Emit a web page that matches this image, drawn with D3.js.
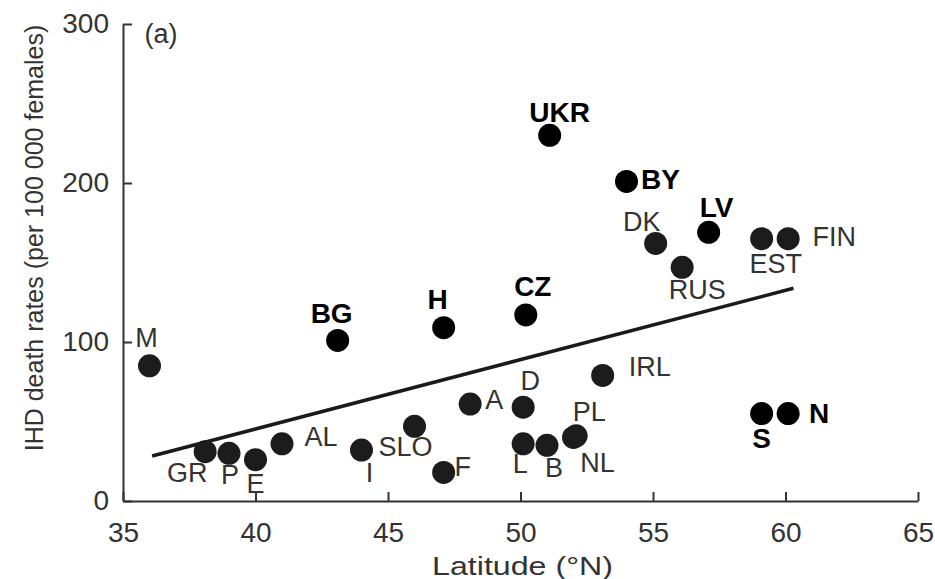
<!DOCTYPE html>
<html>
<head>
<meta charset="utf-8">
<script src="https://cdn.jsdelivr.net/npm/d3@7/dist/d3.min.js"></script>
<style>
  body { margin: 0; background: #fff; }
  svg { font-family: "Liberation Sans", Arial, sans-serif; }
</style>
</head>
<body>
<div id="chart"></div>
<script>
// country codes, latitude (°N), IHD death rate (per 100 000 females)
const countries = ["M", "GR", "P", "E", "AL", "I", "SLO", "F", "A", "D", "L", "B", "PL", "NL", "IRL",
  "BG", "H", "CZ", "UKR", "BY", "DK", "LV", "RUS", "EST", "FIN", "S", "N"]
const latitude = [36.0, 38.1, 39.0, 40.0, 41.0, 44.0, 46.0, 47.1, 48.1, 50.1, 50.1, 51.0, 52.1, 52.0, 53.1,
  43.1, 47.1, 50.2, 51.1, 54.0, 55.1, 57.1, 56.1, 59.1, 60.1, 59.1, 60.1]
const rates = [85, 31, 30, 26, 36, 32, 47, 18, 61, 59, 36, 35, 41, 40, 79,
  101, 109, 117, 230, 201, 162, 169, 147, 165, 165, 55, 55]
// eastern / highlighted countries are drawn bold
const highlighted = ["BG", "H", "CZ", "UKR", "BY", "LV", "S", "N"]

// fitted regression line, two end points [lat, rate]
const fitLine = [[36.1, 28.3], [60.3, 133.8]]

const xTicks = [35, 40, 45, 50, 55, 60, 65]
const yTicks = [0, 100, 200, 300]

// label offsets from dot centre (layout only)
const labelPos = {
  M: [-3, -28], GR: [-18, 21], P: [1, 22], E: [0, 24], AL: [39, -7], I: [8, 23], SLO: [-9, 21],
  F: [19, -5], A: [24, -4], D: [7, -26], L: [-3, 20], B: [7, 23], PL: [13, -24], NL: [24, 26],
  IRL: [47, -8], BG: [-6, -27], H: [-6, -28], CZ: [7, -28], UKR: [10, -23], BY: [34, -2],
  DK: [-14, -21], LV: [8, -25], RUS: [15, 23], EST: [14, 25], FIN: [46, -2], S: [0, 25], N: [31, 0]
}

const svgWidth = 935, svgHeight = 579

const svg = d3.select("#chart").append("svg")
  .attr("width", svgWidth)
  .attr("height", svgHeight)

const x = d3.scaleLinear().domain([35, 65]).range([123, 918])
const y = d3.scaleLinear().domain([0, 300]).range([501, 24])

// axes
const xAxis = svg.append("g")
  .attr("transform", "translate(0," + y(0) + ")")
  .call(d3.axisBottom(x).tickValues(xTicks).tickSize(-9).tickPadding(21).tickSizeOuter(0))
xAxis.selectAll("text").attr("font-size", "28px").attr("fill", "#333")

const yAxis = svg.append("g")
  .attr("transform", "translate(" + x(35) + ",0)")
  .call(d3.axisLeft(y).tickValues(yTicks).tickSize(-9).tickPadding(14).tickSizeOuter(0))
yAxis.selectAll("text").attr("font-size", "28px").attr("fill", "#333")

svg.selectAll(".domain, .tick line").attr("stroke", "#333").attr("stroke-width", 2)
svg.selectAll(".tick text").attr("font-family", "Liberation Sans, Arial, sans-serif")

// axis titles
svg.append("text")
  .attr("x", 432).attr("y", 566)
  .attr("dominant-baseline", "central")
  .attr("font-size", "25px").attr("fill", "#333")
  .attr("textLength", 181).attr("lengthAdjust", "spacingAndGlyphs")
  .text("Latitude (°N)")
svg.append("text")
  .attr("transform", "translate(34,238) rotate(-90)")
  .attr("text-anchor", "middle").attr("dominant-baseline", "central")
  .attr("font-size", "25px").attr("fill", "#333")
  .text("IHD death rates (per 100 000 females)")

svg.append("text")
  .attr("x", 161).attr("y", 34)
  .attr("text-anchor", "middle").attr("dominant-baseline", "central")
  .attr("font-size", "27px").attr("fill", "#333")
  .text("(a)")

// regression line
svg.append("path")
  .datum(fitLine)
  .attr("d", d3.line().x(d => x(d[0])).y(d => y(d[1])))
  .attr("stroke", "#1a1a1a").attr("stroke-width", 3.5).attr("fill", "none")

// points
const data = countries.map((c, i) => ({ code: c, lat: latitude[i], rate: rates[i], bold: highlighted.includes(c) }))

svg.selectAll("circle.pt")
  .data(data)
  .enter()
  .append("circle")
  .attr("class", "pt")
  .attr("cx", d => x(d.lat))
  .attr("cy", d => y(d.rate))
  .attr("r", 11.5)
  .attr("fill", d => d.bold ? "#000" : "#1c1c1c")

svg.selectAll("text.lbl")
  .data(data)
  .enter()
  .append("text")
  .attr("class", "lbl")
  .attr("x", d => x(d.lat) + labelPos[d.code][0])
  .attr("y", d => y(d.rate) + labelPos[d.code][1])
  .attr("text-anchor", "middle")
  .attr("dominant-baseline", "central")
  .attr("font-size", d => d.bold ? "28px" : "27px")
  .attr("font-weight", d => d.bold ? "bold" : "normal")
  .attr("fill", d => d.bold ? "#000" : "#333")
  .text(d => d.code)
</script>
</body>
</html>
